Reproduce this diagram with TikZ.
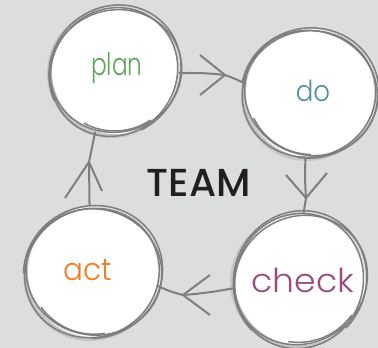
\documentclass[tikz,border=0pt]{standalone}
\usepackage{fontspec}
\setmainfont{Poppins}
\newfontfamily\hand{Poppins Light}
\newfontfamily\teamfont{Poppins Medium}
\definecolor{bg}{HTML}{DCDDDF}
\definecolor{stroke}{HTML}{7E7E80}
\definecolor{shadowc}{HTML}{C6C6C8}
\definecolor{cplan}{HTML}{5DA35A}
\definecolor{cdo}{HTML}{4A8FA6}
\definecolor{ccheck}{HTML}{9B4C7E}
\definecolor{cact}{HTML}{F47B20}
\definecolor{cteam}{HTML}{231F20}
\tikzset{
  ring/.style={draw=stroke, line width=1.5pt},
  hub/.style={circle, minimum size=#1, inner sep=0pt, outer sep=0pt},
  lbl/.style={font=\hand, inner sep=0pt},
  conn/.style={draw=stroke, line width=2pt, line join=round},
}
\newcommand\sketchring[4]{%
  \fill[shadowc] (#1-3,#2+2) circle[radius=#3+1];
  \fill[white] (#1,#2) circle[radius=#3-1];
  \draw[ring] (#1+1,#2) ellipse[x radius=#3+2, y radius=#3-3, rotate=#4];
  \draw[ring] (#1-1,#2+1) ellipse[x radius=#3-2, y radius=#3+2, rotate=#4-55];
  \draw[ring, rotate around={#4+30:(#1,#2)}] (#1,#2) ++(200:#3+4 and #3) arc[start angle=200, end angle=470, x radius=#3+4, y radius=#3];
  \draw[ring, rotate around={#4+80:(#1,#2)}] (#1,#2) ++(150:#3-4 and #3-2) arc[start angle=150, end angle=215, x radius=#3-4, y radius=#3-2];
}
\begin{document}
\begin{tikzpicture}[x=1pt,y=-1pt]
\useasboundingbox (0,0) rectangle (378,348);
\fill[bg] (0,0) rectangle (378,348);

\sketchring{115}{71}{64}{15}
\sketchring{310}{93}{65}{-20}
\sketchring{300}{280}{66}{35}
\sketchring{93}{272}{66}{-10}

\node[hub=128pt] (plan) at (115,71) {};
\node[hub=130pt] (do) at (310,93) {};
\node[hub=132pt] (check) at (300,280) {};
\node[hub=132pt] (act) at (93,272) {};

\node[lbl, text=cplan, font=\hand\fontsize{31}{36}\selectfont, xscale=0.75] (planlbl) at (117,68) {plan};
\node[lbl, text=cdo, font=\hand\fontsize{29}{34}\selectfont, xscale=0.9] (dolbl) at (313,91) {do};
\node[lbl, text=ccheck, font=\hand\fontsize{33}{38}\selectfont, xscale=1.05] (checklbl) at (303,280) {check};
\node[lbl, text=cact, font=\hand\fontsize{31}{36}\selectfont, xscale=0.95] (actlbl) at (88,270) {act};

\node[font=\teamfont\fontsize{39}{44}\selectfont, text=cteam, inner sep=0pt] (team) at (199,183) {TEAM};

\coordinate (t1) at (225,75);
\coordinate (t2) at (306,198);
\coordinate (t3) at (183,295);
\coordinate (t4) at (89,162);

% connectors
\draw[conn] (plan.-2) to[bend left=4] (t1) to[bend left=4] (do.172);
\draw[conn] (do.266) to[bend right=3] (t2) -- (check.87);
\draw[conn] (check.187) to[bend left=3] (t3) to[bend left=6] (act.-12);
\draw[conn] (act.93) -- (t4) -- (plan.252);

% chevrons
\draw[conn] (t1) ++(-25,-20) -- (t1) -- ++(-25,20);
\draw[conn] (t2) ++(-20,-23) -- (t2) -- ++(21,-25);
\draw[conn] (t3) ++(27,-20) -- (t3) -- ++(27,20);
\draw[conn] (t4) ++(-24,36) -- (t4) -- ++(13,29);
\end{tikzpicture}
\end{document}
